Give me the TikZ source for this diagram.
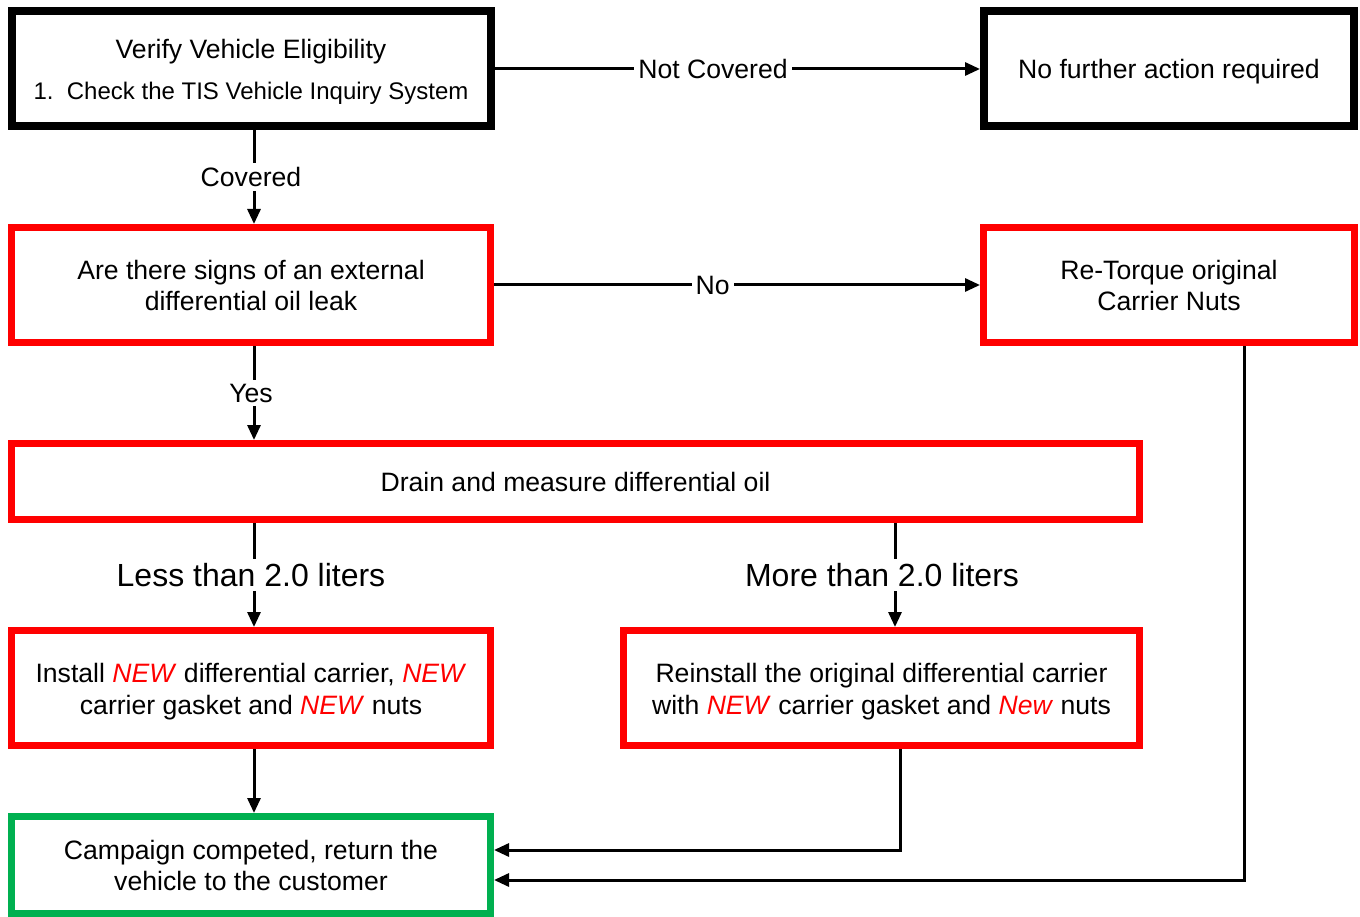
\documentclass[tikz,border=0pt]{standalone}
\usepackage{fontspec}
\setmainfont{Liberation Sans}
\usetikzlibrary{arrows.meta,calc}
\definecolor{boxred}{HTML}{FF0000}
\definecolor{boxgreen}{HTML}{00B050}
\newcommand{\newword}[1]{\textcolor{boxred}{\textit{#1}}}
\newcommand{\shiftdown}[2]{\raisebox{-#1}[\height][\depth]{#2}}
\begin{document}
\begin{tikzpicture}[x=1pt,y=-1pt,
  fbox/.style={draw, rectangle, inner sep=0pt, align=center, font=\fontsize{26.6}{31}\selectfont},
  blackbox/.style={fbox, draw=black, line width=8pt},
  redbox/.style={fbox, draw=boxred, line width=7pt},
  greenbox/.style={fbox, draw=boxgreen, line width=7pt},
  conn/.style={line width=3pt, -{Triangle[length=15pt,width=13pt]}},
  lbl/.style={fill=white, inner sep=4pt, font=\fontsize{26.6}{30}\selectfont},
  biglbl/.style={fill=white, inner sep=4pt, font=\fontsize{32}{36}\selectfont}]
\useasboundingbox (0,0) rectangle (1360,917);

\node[blackbox, minimum width=479pt, minimum height=115pt] (box1) at (251,69)
  {\shiftdown{4pt}{\begin{tabular}{@{}c@{}}Verify Vehicle Eligibility\\[10pt]
   {\fontsize{24}{31}\selectfont 1.\ \ Check the TIS Vehicle Inquiry System}\end{tabular}}};
\node[blackbox, minimum width=370pt, minimum height=115pt] (box2) at (1169,69)
  {\shiftdown{3pt}{No further action required}};
\node[redbox, minimum width=479pt, minimum height=115pt] (red1) at (251,285)
  {Are there signs of an external\\differential oil leak};
\node[redbox, minimum width=371pt, minimum height=115pt] (retorque) at (1169,285)
  {Re-Torque original\\Carrier Nuts};
\node[redbox, minimum width=1128pt, minimum height=76pt] (drain) at (575.5,481.5)
  {Drain and measure differential oil};
\node[redbox, minimum width=479pt, minimum height=115pt,
  font=\fontsize{26.6}{32}\selectfont] (install) at (251,688)
  {\shiftdown{4pt}{\begin{tabular}{@{}c@{}}Install \newword{NEW} differential carrier, \newword{NEW}\\carrier gasket and \newword{NEW} nuts\end{tabular}}};
\node[redbox, minimum width=516pt, minimum height=115pt,
  font=\fontsize{26.6}{32}\selectfont] (reinstall) at (881.5,688)
  {\shiftdown{4pt}{\begin{tabular}{@{}c@{}}Reinstall the original differential carrier\\with \newword{NEW} carrier gasket and \newword{New} nuts\end{tabular}}};
\node[greenbox, minimum width=479pt, minimum height=97pt] (green) at (251,865)
  {Campaign competed, return the\\vehicle to the customer};

\coordinate (lx) at (254,0);
\coordinate (mx) at (895,0);
\coordinate (c1) at (900,850);
\coordinate (c2) at (1244,880);

\draw[conn] (box1.east) -- node[lbl, pos=0.45] {Not Covered} (box2.west);
\draw[conn] (red1.east) -- node[lbl, pos=0.45] {No} (retorque.west);
\draw[conn] (box1.south -| lx) -- node[lbl, xshift=-3pt] {Covered} (red1.north -| lx);
\draw[conn] (red1.south -| lx) -- node[lbl, xshift=-3pt] {Yes} (drain.north -| lx);
\draw[conn] (drain.south -| lx) -- node[biglbl, xshift=-3pt] {Less than 2.0 liters} (install.north -| lx);
\draw[conn] (drain.south -| mx) -- node[biglbl, xshift=-13pt] {More than 2.0 liters} (reinstall.north -| mx);
\draw[conn] (install.south -| lx) -- (green.north -| lx);
\draw[conn] (reinstall.south -| c1) -- (c1) -- (green.east |- c1);
\draw[conn] (retorque.south -| c2) -- (c2) -- (green.east |- c2);
\end{tikzpicture}
\end{document}
